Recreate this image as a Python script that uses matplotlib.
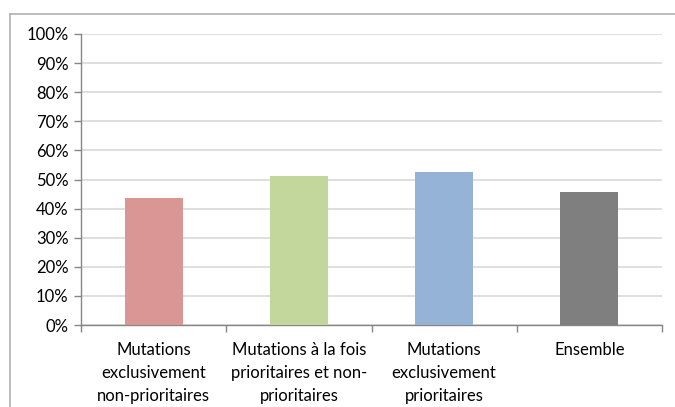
import matplotlib.pyplot as plt
from matplotlib.ticker import FuncFormatter, FixedLocator
import numpy as np

categories = [
    "Mutations\nexclusivement\nnon-prioritaires",
    "Mutations à la fois\nprioritaires et non-\nprioritaires",
    "Mutations\nexclusivement\nprioritaires",
    "Ensemble",
]
shares = [0.435, 0.512, 0.526, 0.457]
colors = ["#D99694", "#C3D69B", "#95B3D7", "#7F7F7F"]

plt.rcParams['font.family'] = ['Lato', 'DejaVu Sans']

fig = plt.figure(figsize=(6.75, 4.07), dpi=100)
# chart frame (top and left edges only)
fig.add_artist(plt.Line2D([10 / 675, 10 / 675], [0, 1 - 14 / 407], color="#B0B0B0", lw=1.2))
fig.add_artist(plt.Line2D([10 / 675, 1], [1 - 14 / 407, 1 - 14 / 407], color="#B0B0B0", lw=1.2))

ax = fig.add_axes([81 / 675, 1 - 325 / 407, (662 - 81) / 675, (325 - 34) / 407])

x = np.arange(len(categories))
ax.bar(x, shares, width=0.4, color=colors, zorder=3)

ax.set_xlim(-0.5, len(categories) - 0.5)
ax.set_ylim(0, 1)
ax.set_yticks(np.arange(0, 1.01, 0.1))
ax.yaxis.set_major_formatter(FuncFormatter(lambda v, _: f"{v * 100:.0f}%"))
ax.yaxis.grid(True, color="#D9D9D9", lw=1.2, zorder=0)

# category boundaries carry the tick marks, labels sit at bar centres
ax.xaxis.set_major_locator(FixedLocator(np.arange(-0.5, len(categories), 1.0)))
ax.set_xticklabels([])
ax.set_xticks(x, minor=True)
ax.set_xticklabels(categories, minor=True, fontsize=12, linespacing=1.55)
ax.tick_params(axis="x", which="minor", length=0, pad=12)
ax.tick_params(axis="x", which="major", length=5, color="#868686", width=1)
ax.tick_params(axis="y", length=5, color="#868686", width=1, labelsize=12, pad=4)

for side in ["top", "right"]:
    ax.spines[side].set_visible(False)
for side in ["left", "bottom"]:
    ax.spines[side].set_color("#868686")
    ax.spines[side].set_linewidth(1)

fig.savefig("out.png", dpi=100)
